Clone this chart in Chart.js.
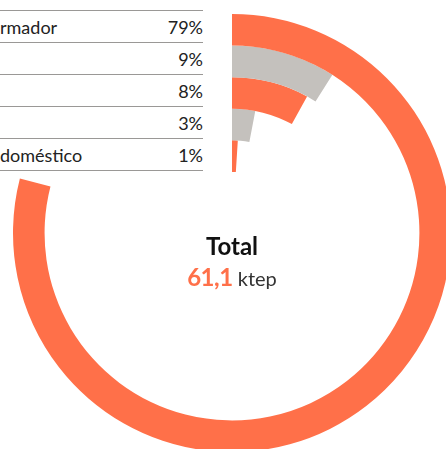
<!DOCTYPE html>
<html>
<head>
<meta charset="utf-8">
<script src="https://cdn.jsdelivr.net/npm/chart.js@4.4.1/dist/chart.umd.min.js"></script>
<style>
    html, body { margin: 0; padding: 0; background: #fff; }
    body { width: 446px; height: 449px; overflow: hidden; position: relative; font-family: Lato, "Open Sans", sans-serif; }
    #ringChart { position: absolute; left: 13px; top: 14px; }
    #legendTable { position: absolute; left: 0; top: 10px; width: 203px; border-top: 1px solid #9a9896; }
    .row { height: 31px; border-bottom: 1px solid #9a9896; display: flex; align-items: center; justify-content: space-between; font-size: 18px; color: #222; }
    .row span { line-height: 1; }
    #centerLabel { position: absolute; left: 132px; width: 200px; top: 231px; text-align: center; color: #111; }
    #centerLabel .ttl { font-weight: 700; font-size: 24px; }
    #centerLabel .val { font-size: 20px; margin-top: 2px; color: #333; }
    #centerLabel .val b { color: #ff7049; font-weight: 700; font-size: 24px; letter-spacing: -0.5px; }
</style>
</head>
<body>
<div id="legendTable"></div>
<canvas id="ringChart" width="438" height="438"></canvas>
<div id="centerLabel">
    <div class="ttl">Total</div>
    <div class="val"><b id="totalValue"></b> <span id="totalUnit"></span></div>
</div>
<script>
// ring shares, outer ring first
const labels = ['rmador', '', '', '', 'doméstico'];
const shares = [79, 9, 8, 3, 1];
const ringColors = ['#ff7049', '#c4c1bd', '#ff7049', '#c4c1bd', '#ff7049'];
const totalValue = '61,1';
const totalUnit = 'ktep';

// legend rows
document.getElementById('legendTable').innerHTML = labels.map((lbl, i) =>
    `<div class="row"><span>${lbl}</span><span>${shares[i]}%</span></div>`).join('');

document.getElementById('totalValue').textContent = totalValue;
document.getElementById('totalUnit').textContent = totalUnit;

// each ring = share + transparent remainder
const datasets = shares.map((v, i) => ({
    data: [v, 100 - v],
    backgroundColor: [ringColors[i], 'rgba(0,0,0,0)'],
    borderWidth: 0,
    hoverOffset: 0
}));

new Chart(document.getElementById('ringChart'), {
    type: 'doughnut',
    data: { labels: ['share', 'rest'], datasets },
    options: {
        responsive: false,
        animation: false,
        cutout: '27.9%',
        rotation: 0,
        circumference: 360,
        layout: { padding: 0 },
        plugins: { legend: { display: false }, tooltip: { enabled: false } }
    }
});
</script>
</body>
</html>
